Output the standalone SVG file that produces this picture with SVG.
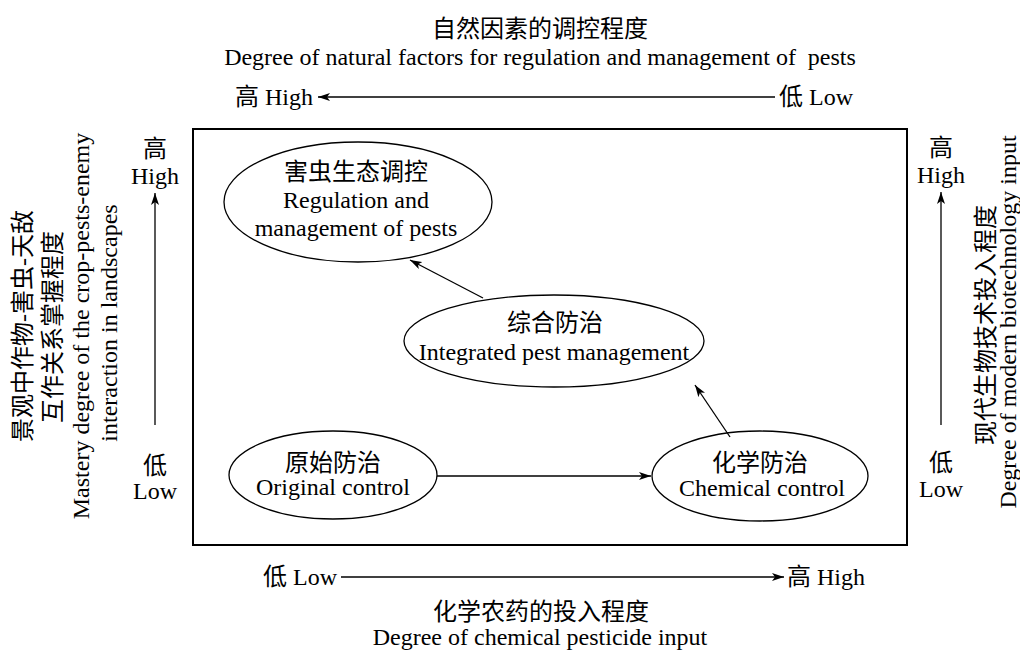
<svg xmlns="http://www.w3.org/2000/svg" width="1020" height="651" viewBox="0 0 1020 651">
<defs>
<marker id="ah" viewBox="0 0 12 8" refX="12" refY="4" markerWidth="12" markerHeight="8" markerUnits="userSpaceOnUse" orient="auto">
<path d="M0,0 L12,4 L0,8 L3,4 Z" fill="#000"/>
</marker>
<style>
text{font-family:"Liberation Serif","Noto Sans CJK SC",serif;font-size:24px;fill:#000;text-anchor:middle}
.l{text-anchor:start}
.r{text-anchor:end}
.node ellipse{fill:#fff;stroke:#000;stroke-width:1.3}
.ar{stroke:#000;stroke-width:1.3;fill:none;marker-end:url(#ah)}
</style>
</defs>
<rect width="1020" height="651" fill="#fff"/>
<g id="frame"><rect x="193" y="129" width="714" height="416" fill="none" stroke="#000" stroke-width="2"/></g>
<g id="top-axis">
<text x="540" y="37">自然因素的调控程度</text>
<text x="540" y="65" xml:space="preserve">Degree of natural factors for regulation and management of  pests</text>
<text class="r" x="313" y="105">高 High</text>
<text class="l" x="779" y="105">低 Low</text>
</g>
<g id="bottom-axis">
<text class="r" x="337" y="585">低 Low</text>
<text class="l" x="787" y="585">高 High</text>
<text x="541" y="620">化学农药的投入程度</text>
<text x="540" y="645">Degree of chemical pesticide input</text>
</g>
<g id="left-axis">
<text x="155" y="157">高</text>
<text x="155" y="184">High</text>
<text x="155" y="474">低</text>
<text x="155" y="499">Low</text>
<text transform="translate(31,326) rotate(-90)">景观中作物-害虫-天敌</text>
<text transform="translate(61,327) rotate(-90)">互作关系掌握程度</text>
<text transform="translate(89,326) rotate(-90)">Mastery degree of the crop-pests-enemy</text>
<text transform="translate(117,323) rotate(-90)">interaction in landscapes</text>
</g>
<g id="right-axis">
<text x="941" y="156">高</text>
<text x="941" y="183">High</text>
<text x="941" y="471">低</text>
<text x="941" y="497">Low</text>
<text transform="translate(994,325) rotate(-90)">现代生物技术投入程度</text>
<text transform="translate(1016,322) rotate(-90)">Degree of modern biotechnology input</text>
</g>
<g id="n1" class="node">
<ellipse cx="358" cy="202" rx="134" ry="60"/>
<text x="356" y="180">害虫生态调控</text>
<text x="356" y="208">Regulation and</text>
<text x="356" y="236">management of pests</text>
</g>
<g id="n2" class="node">
<ellipse cx="554" cy="341" rx="150" ry="46"/>
<text x="555" y="331">综合防治</text>
<text x="554" y="360">Integrated pest management</text>
</g>
<g id="n3" class="node">
<ellipse cx="333" cy="475" rx="104" ry="44"/>
<text x="333" y="471">原始防治</text>
<text x="333" y="495">Original control</text>
</g>
<g id="n4" class="node">
<ellipse cx="760" cy="476" rx="108" ry="45"/>
<text x="760" y="471">化学防治</text>
<text x="762" y="496">Chemical control</text>
</g>
<g id="connectors">
<line class="ar" x1="775" y1="97" x2="318" y2="97"/>
<line class="ar" x1="341" y1="577" x2="784" y2="577"/>
<line class="ar" x1="155" y1="425" x2="155" y2="193"/>
<line class="ar" x1="941" y1="425" x2="941" y2="192"/>
<line class="ar" x1="437" y1="476" x2="651" y2="476"/>
<line class="ar" x1="730" y1="437" x2="695" y2="385"/>
<line class="ar" x1="483" y1="298" x2="410" y2="260"/>
</g>
</svg>
